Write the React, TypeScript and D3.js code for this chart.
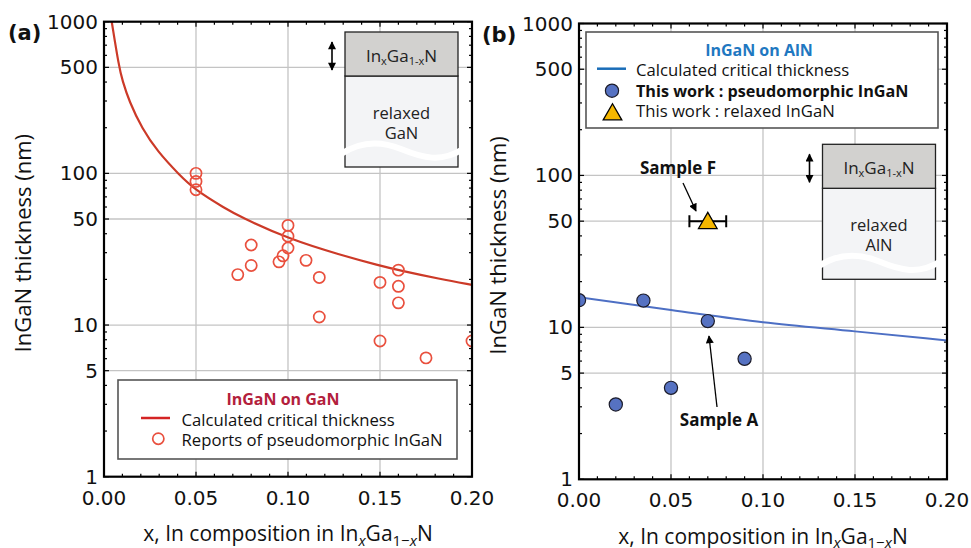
import React from "react";
import * as d3 from "d3";

const W = 971;
const H = 548;

// ---------- data ----------
const xTickValues = [0, 0.05, 0.1, 0.15, 0.2];
const xTickLabels = ["0.00", "0.05", "0.10", "0.15", "0.20"];
const yTickValues = [1, 5, 10, 50, 100, 500, 1000];
const yTickLabels = ["1", "5", "10", "50", "100", "500", "1000"];
const xGridValues = [0.05, 0.1, 0.15];
const yGridValues = [5, 10, 50, 100, 500];

// (a) InGaN on GaN
const ganCurveX = [0.0042, 0.0082, 0.01, 0.0136, 0.0208, 0.029, 0.0408, 0.05, 0.0661, 0.0739, 0.1002, 0.1283, 0.15, 0.16, 0.1826, 0.2];
const ganCurveH = [1000, 500, 410, 300, 196, 140, 98, 77, 58.5, 51.8, 37, 29, 24.6, 23, 20.1, 18.4];
const ganReportX = [0.05, 0.05, 0.05, 0.1, 0.1, 0.1, 0.08, 0.08, 0.0973, 0.0951, 0.1098, 0.0727, 0.117, 0.117, 0.15, 0.15, 0.16, 0.16, 0.16, 0.175, 0.2];
const ganReportH = [100, 88.5, 78, 45.4, 38.5, 32.2, 33.7, 24.7, 28.6, 26.1, 26.7, 21.5, 20.6, 11.3, 19.1, 7.85, 23, 18, 14, 6.07, 7.85];

// (b) InGaN on AlN
const alnCurveX = [0, 0.05, 0.1, 0.15, 0.2];
const alnCurveH = [15.76, 13.0, 10.8, 9.41, 8.21];
const alnWorkX = [0, 0.02, 0.035, 0.05, 0.07, 0.09];
const alnWorkH = [15.1, 3.11, 15.0, 4.0, 11.0, 6.21];
const alnRelaxedX = [0.07];
const alnRelaxedH = [50];
const alnRelaxedErr = [0.01];

// ---------- style ----------
const TICK_FONT = "'DejaVu Sans', sans-serif";
const TEXT_FONT = "'Open Sans', 'Noto Sans', sans-serif";
const GRID = "#c4c4c4";

type Box = { x0: number; x1: number; y0: number; y1: number };
const boxA: Box = { x0: 104, x1: 472, y0: 21.7, y1: 476.7 };
const boxB: Box = { x0: 579, x1: 947, y0: 23.5, y1: 479.3 };

function scales(b: Box) {
  const x = d3.scaleLinear().domain([0, 0.2]).range([b.x0, b.x1]);
  const y = d3.scaleLog().domain([1, 1000]).range([b.y1, b.y0]);
  return { x, y };
}

const minorX = d3.range(1, 20).map((i) => i / 100).filter((v) => !xTickValues.some((t) => Math.abs(t - v) < 1e-9));
const minorY = [1, 10, 100].flatMap((d) => d3.range(2, 10).map((k) => k * d)).filter((v) => !yTickValues.includes(v));

function Frame({ b, id }: { b: Box; id: string }) {
  const { x, y } = scales(b);
  const maj = 5;
  const mnr = 3;
  return (
    <g>
      <g stroke={GRID} strokeWidth={1.3}>
        {xGridValues.map((v) => (
          <line key={"gx" + v} x1={x(v)} x2={x(v)} y1={b.y0} y2={b.y1} />
        ))}
        {yGridValues.map((v) => (
          <line key={"gy" + v} x1={b.x0} x2={b.x1} y1={y(v)} y2={y(v)} />
        ))}
      </g>
      <g stroke="#000" strokeWidth={1.2}>
        {xTickValues.map((v) => (
          <g key={"tx" + v}>
            <line x1={x(v)} x2={x(v)} y1={b.y1} y2={b.y1 - maj} />
            <line x1={x(v)} x2={x(v)} y1={b.y0} y2={b.y0 + maj} />
          </g>
        ))}
        {minorX.map((v) => (
          <g key={"mx" + v}>
            <line x1={x(v)} x2={x(v)} y1={b.y1} y2={b.y1 - mnr} />
            <line x1={x(v)} x2={x(v)} y1={b.y0} y2={b.y0 + mnr} />
          </g>
        ))}
        {yTickValues.map((v) => (
          <g key={"ty" + v}>
            <line x1={b.x0} x2={b.x0 + maj} y1={y(v)} y2={y(v)} />
            <line x1={b.x1} x2={b.x1 - maj} y1={y(v)} y2={y(v)} />
          </g>
        ))}
        {minorY.map((v) => (
          <g key={"my" + v}>
            <line x1={b.x0} x2={b.x0 + mnr} y1={y(v)} y2={y(v)} />
            <line x1={b.x1} x2={b.x1 - mnr} y1={y(v)} y2={y(v)} />
          </g>
        ))}
      </g>
      <g fontFamily={TICK_FONT} fontSize={20} fill="#111">
        {xTickValues.map((v, i) => (
          <text key={"lx" + v} x={x(v)} y={b.y1 + 28} textAnchor="middle">
            {xTickLabels[i]}
          </text>
        ))}
        {yTickValues.map((v, i) => (
          <text key={"ly" + v} x={b.x0 - 6} y={y(v) + 7} textAnchor="end">
            {yTickLabels[i]}
          </text>
        ))}
      </g>
      <text
        fontFamily={TEXT_FONT}
        fontSize={21}
        fill="#111"
        x={(b.x0 + b.x1) / 2}
        y={b.y1 + 64.5}
        textAnchor="middle"
      >
        x, In composition in In
        <tspan dy={4.5} fontSize={15} fontStyle="italic">x</tspan>
        <tspan dy={-4.5}>Ga</tspan>
        <tspan dy={4.5} fontSize={15}>1−<tspan fontStyle="italic">x</tspan></tspan>
        <tspan dy={-4.5}>N</tspan>
      </text>
      <text
        fontFamily={TEXT_FONT}
        fontSize={22}
        fill="#111"
        transform={`translate(${b.x0 - 73},${(b.y0 + b.y1) / 2 - 6}) rotate(-90)`}
        textAnchor="middle"
      >
        InGaN thickness (nm)
      </text>
      <clipPath id={id}>
        <rect x={b.x0} y={b.y0} width={b.x1 - b.x0} height={b.y1 - b.y0} />
      </clipPath>
    </g>
  );
}

function FrameBorder({ b }: { b: Box }) {
  return <rect x={b.x0} y={b.y0} width={b.x1 - b.x0} height={b.y1 - b.y0} fill="none" stroke="#000" strokeWidth={2.2} />;
}

function Inset({ x0, y0, sub }: { x0: number; y0: number; sub: string }) {
  const w = 113;
  const h = 135;
  const band = 44;
  return (
    <g>
      <rect x={x0} y={y0 + band} width={w} height={h - band} fill="#f3f4f6" stroke="#222" strokeWidth={1.3} />
      <rect x={x0} y={y0} width={w} height={band} fill="#d2d1cf" stroke="#222" strokeWidth={1.3} />
      <path
        d={`M${x0 - 4},${y0 + 122} C${x0 + 14},${y0 + 110} ${x0 + 34},${y0 + 108} ${x0 + 56},${y0 + 117} S${x0 + 96},${y0 + 131} ${x0 + 118},${y0 + 117}`}
        fill="none"
        stroke="#fff"
        strokeWidth={6}
      />
      <text x={x0 + w / 2} y={y0 + 30} textAnchor="middle" fontFamily={TEXT_FONT} fontSize={17} fill="#222">
        In<tspan dy={3} fontSize={11}>x</tspan>
        <tspan dy={-3}>Ga</tspan>
        <tspan dy={3} fontSize={11}>1-x</tspan>
        <tspan dy={-3}>N</tspan>
      </text>
      <text x={x0 + w / 2} y={y0 + 87} textAnchor="middle" fontFamily={TEXT_FONT} fontSize={16.5} fill="#222">
        relaxed
      </text>
      <text x={x0 + w / 2} y={y0 + 107} textAnchor="middle" fontFamily={TEXT_FONT} fontSize={16.5} fill="#222">
        {sub}
      </text>
      <line
        x1={x0 - 13}
        x2={x0 - 13}
        y1={y0 + 10}
        y2={y0 + band - 6}
        stroke="#000"
        strokeWidth={1.6}
        markerStart="url(#arrowS)"
        markerEnd="url(#arrowE)"
      />
    </g>
  );
}

function PanelA() {
  const b = boxA;
  const { x, y } = scales(b);
  const line = d3
    .line<number>()
    .x((d, i) => x(ganCurveX[i]))
    .y((d) => y(d))
    .curve(d3.curveBasis);
  return (
    <g>
      <Frame b={b} id="clipA" />
      <g clipPath="url(#clipA)">
        <path d={line(ganCurveH) || ""} fill="none" stroke="#cc3a28" strokeWidth={2.2} />
        {ganReportX.map((v, i) => (
          <circle key={i} cx={x(v)} cy={y(ganReportH[i])} r={5.6} fill="none" stroke="#e9503e" strokeWidth={1.7} />
        ))}
      </g>
      <Inset x0={345} y0={32} sub="GaN" />
      <g>
        <rect x={118} y={380} width={339} height={79} fill="#fff" stroke="#555" strokeWidth={1.6} />
        <text x={283} y={404.5} textAnchor="middle" fontFamily={TEXT_FONT} fontWeight="bold" fontSize={16} fill="#b3203c">
          InGaN on GaN
        </text>
        <line x1={141} x2={170} y1={418} y2={418} stroke="#d42424" strokeWidth={2.5} />
        <text x={181.5} y={426} fontFamily={TEXT_FONT} fontSize={16.7} fill="#111">
          Calculated critical thickness
        </text>
        <circle cx={158.3} cy={438.7} r={5.6} fill="none" stroke="#e9503e" strokeWidth={1.7} />
        <text x={181.5} y={446} fontFamily={TEXT_FONT} fontSize={16.7} fill="#111">
          Reports of pseudomorphic InGaN
        </text>
      </g>
      <FrameBorder b={b} />
      <text x={8} y={40} fontFamily={TICK_FONT} fontWeight="bold" fontSize={21} fill="#111">
        (a)
      </text>
    </g>
  );
}

function PanelB() {
  const b = boxB;
  const { x, y } = scales(b);
  const line = d3
    .line<number>()
    .x((d, i) => x(alnCurveX[i]))
    .y((d) => y(d))
    .curve(d3.curveMonotoneX);
  const tri = d3.symbol().type(d3.symbolTriangle).size(150)();
  return (
    <g>
      <Frame b={b} id="clipB" />
      <g clipPath="url(#clipB)">
        <path d={line(alnCurveH) || ""} fill="none" stroke="#4d6fc4" strokeWidth={2} />
        {alnWorkX.map((v, i) => (
          <circle key={i} cx={x(v)} cy={y(alnWorkH[i])} r={6.6} fill="#5672c2" stroke="#1c1c2a" strokeWidth={1.2} />
        ))}
        {alnRelaxedX.map((v, i) => (
          <g key={"r" + i}>
            <g stroke="#000" strokeWidth={2}>
              <line x1={x(v - alnRelaxedErr[i])} x2={x(v + alnRelaxedErr[i])} y1={y(alnRelaxedH[i])} y2={y(alnRelaxedH[i])} />
              <line x1={x(v - alnRelaxedErr[i])} x2={x(v - alnRelaxedErr[i])} y1={y(alnRelaxedH[i]) - 6} y2={y(alnRelaxedH[i]) + 6} />
              <line x1={x(v + alnRelaxedErr[i])} x2={x(v + alnRelaxedErr[i])} y1={y(alnRelaxedH[i]) - 6} y2={y(alnRelaxedH[i]) + 6} />
            </g>
            <path d={tri || ""} transform={`translate(${x(v)},${y(alnRelaxedH[i]) + 2})`} fill="#f5b700" stroke="#000" strokeWidth={1.3} />
          </g>
        ))}
      </g>
      <Inset x0={822.5} y0={144.3} sub="AlN" />
      {/* annotations */}
      <text x={678} y={173.5} textAnchor="middle" fontFamily={TEXT_FONT} fontWeight="bold" fontSize={17} fill="#111">
        Sample F
      </text>
      <line x1={683} y1={183} x2={696} y2={211} stroke="#000" strokeWidth={1.3} markerEnd="url(#arrowE)" />
      <text x={719} y={426} textAnchor="middle" fontFamily={TEXT_FONT} fontWeight="bold" fontSize={17} fill="#111">
        Sample A
      </text>
      <line x1={717} y1={407} x2={709} y2={336} stroke="#000" strokeWidth={1.3} markerEnd="url(#arrowE)" />
      <g>
        <rect x={586} y={32} width={352} height={96} fill="#fff" stroke="#555" strokeWidth={1.6} />
        <text x={759} y={55.5} textAnchor="middle" fontFamily={TEXT_FONT} fontWeight="bold" fontSize={16} fill="#1f78c1">
          InGaN on AlN
        </text>
        <line x1={597} x2={626} y1={68.7} y2={68.7} stroke="#1a6db8" strokeWidth={2.5} />
        <text x={636} y={76} fontFamily={TEXT_FONT} fontSize={16.7} fill="#111">
          Calculated critical thickness
        </text>
        <circle cx={612} cy={90.7} r={6.6} fill="#5672c2" stroke="#1c1c2a" strokeWidth={1.2} />
        <text x={636} y={96.5} fontFamily={TEXT_FONT} fontWeight="bold" fontSize={16.2} fill="#111">
          This work : pseudomorphic InGaN
        </text>
        <path d={tri || ""} transform="translate(612.5,114.5)" fill="#f5b700" stroke="#000" strokeWidth={1.3} />
        <text x={636} y={117} fontFamily={TEXT_FONT} fontSize={16.7} fill="#111">
          This work : relaxed InGaN
        </text>
      </g>
      <FrameBorder b={b} />
      <text x={482} y={42} fontFamily={TICK_FONT} fontWeight="bold" fontSize={21} fill="#111">
        (b)
      </text>
    </g>
  );
}

export default function App() {
  return (
    <svg
      width={W}
      height={H}
      viewBox={`0 0 ${W} ${H}`}
      style={{ position: "absolute", left: 0, top: 0, display: "block", background: "#fff" }}
    >
      <defs>
        <marker id="arrowE" viewBox="0 0 10 10" refX="9" refY="5" markerWidth="9" markerHeight="8" markerUnits="userSpaceOnUse" orient="auto">
          <path d="M0,0 L10,5 L0,10 z" fill="#000" />
        </marker>
        <marker id="arrowS" viewBox="0 0 10 10" refX="1" refY="5" markerWidth="9" markerHeight="8" markerUnits="userSpaceOnUse" orient="auto">
          <path d="M10,0 L0,5 L10,10 z" fill="#000" />
        </marker>
      </defs>
      <rect x={0} y={0} width={W} height={H} fill="#fff" />
      <PanelA />
      <PanelB />
    </svg>
  );
}
